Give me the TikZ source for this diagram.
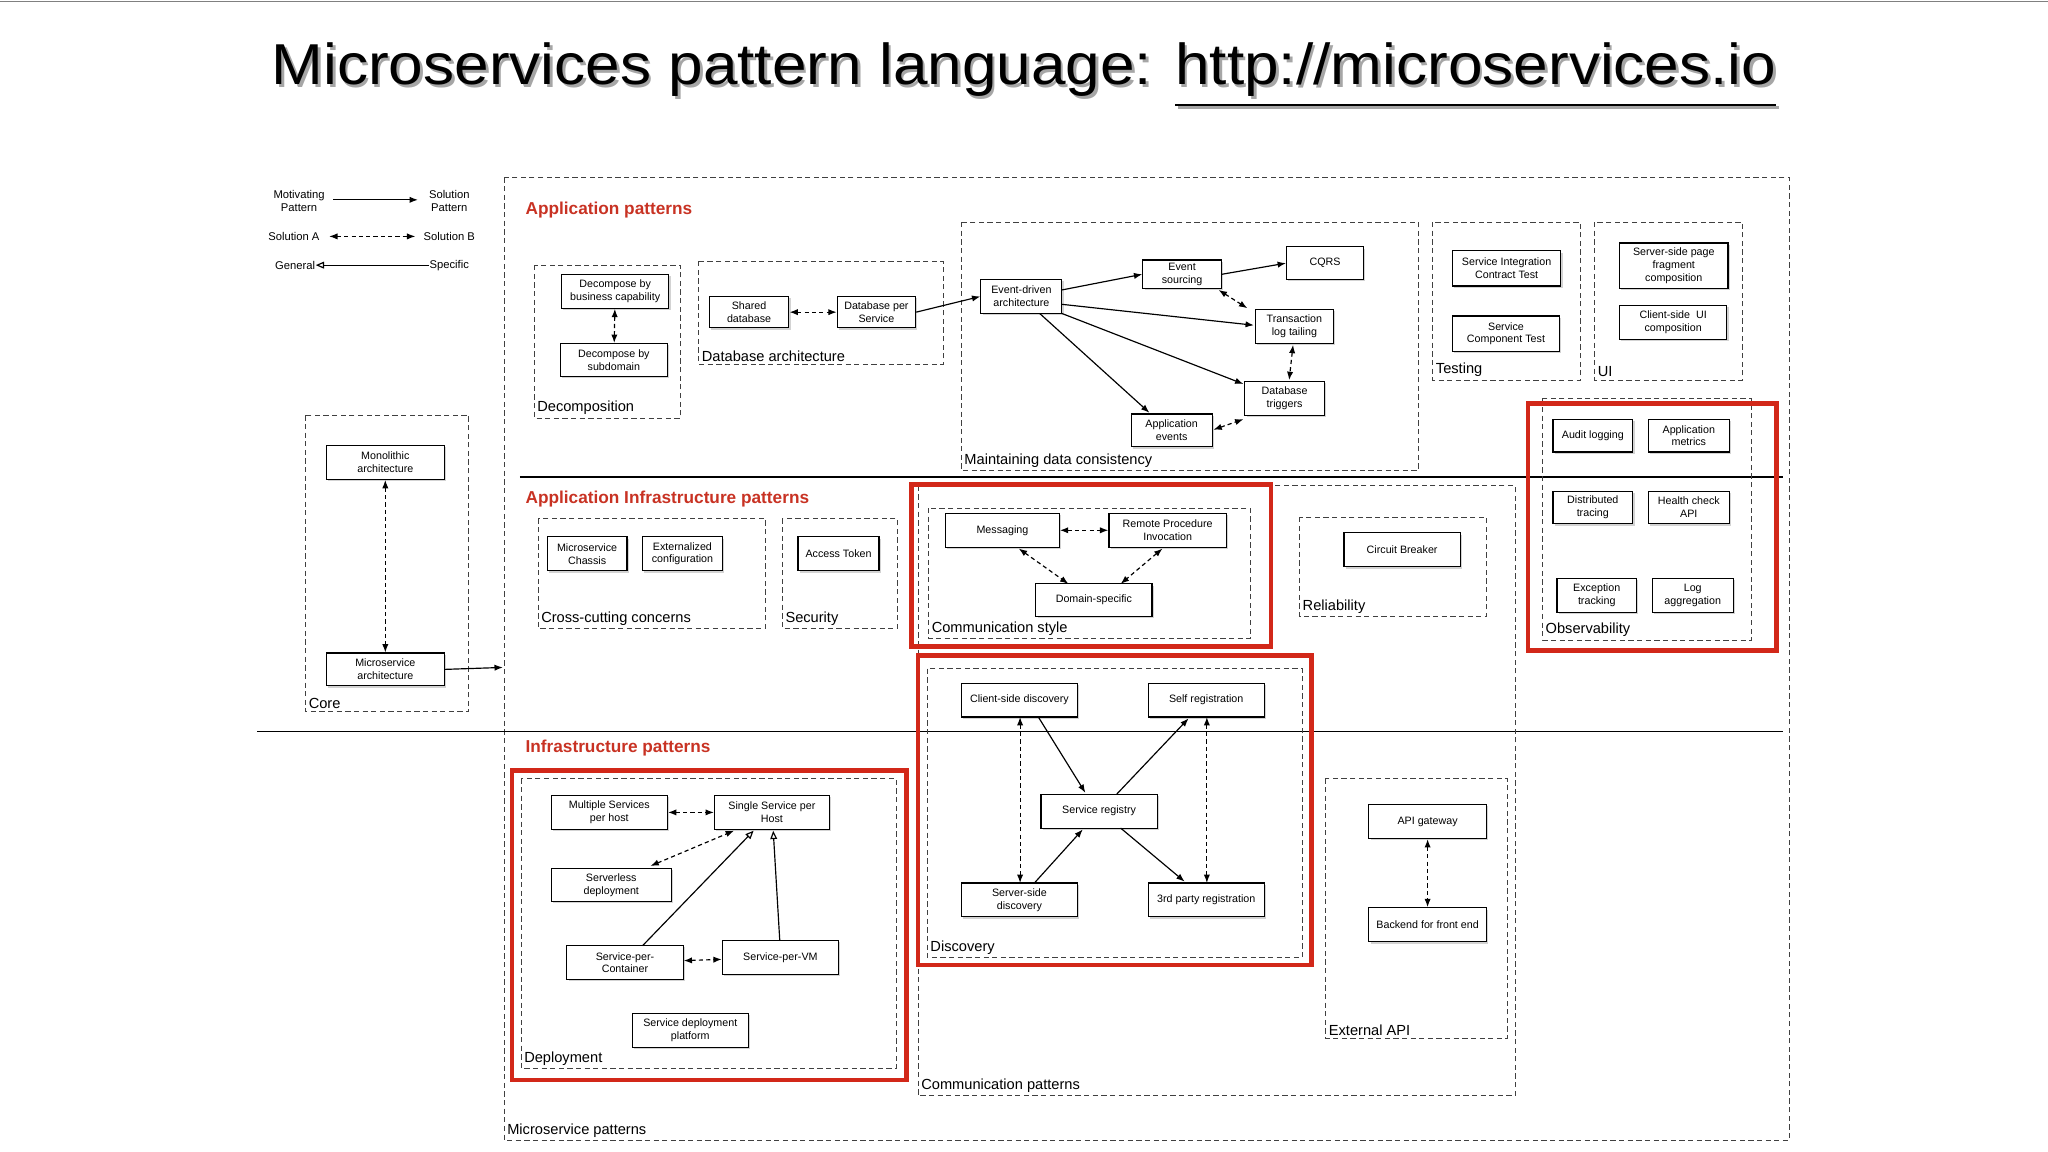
\documentclass[tikz,border=0pt]{standalone}
\usepackage{fontspec}
\setmainfont{Liberation Sans}
\usetikzlibrary{arrows.meta,shadows}
\begin{document}
\begin{tikzpicture}[x=0.5pt,y=-0.5pt,
 box/.style={draw,fill=white,line width=0.45pt,inner sep=0.5pt,align=center,font=\fontsize{4.1}{4.9}\selectfont,drop shadow={shadow xshift=0.7pt,shadow yshift=-0.7pt,opacity=0.35}},
 grp/.style={draw=black!75,line width=0.35pt,dash pattern=on 2pt off 1.3pt},
 lbl/.style={font=\fontsize{5.6}{6}\selectfont,inner sep=1pt,anchor=south west},
 hd/.style={font=\bfseries\fontsize{6.6}{7}\selectfont,text={rgb,255:red,200;green,50;blue,35},anchor=west,inner sep=0pt},
 redb/.style={draw={rgb,255:red,210;green,40;blue,25},line width=1.7pt},
 sa/.style={line width=0.45pt,-{Latex[length=3.2pt,width=2.4pt]}},
 da/.style={line width=0.45pt,dash pattern=on 1.6pt off 1.2pt,{Latex[length=3.2pt,width=2.4pt]}-{Latex[length=3.2pt,width=2.4pt]}},
 oa/.style={line width=0.45pt,-{Triangle[open,length=3.2pt,width=2.6pt]}}]
\useasboundingbox (0,0) rectangle (1568,882);
\newcommand\bx[6]{\node[box,minimum width={(#4-#2)*0.5pt},minimum height={(#5-#3)*0.5pt}] (#1) at ({(#2+#4)/2},{(#3+#5)/2}) {#6};}
\draw[black!50,line width=0.3pt] (0,1) -- (1568,1);
% title
\node[text=black!35,inner sep=0pt] at (786,60) {\resizebox*{576pt}{25pt}{Microservices pattern language: \underline{http://microservices.io}}};
\node[inner sep=0pt] (title) at (784,58) {\resizebox*{576pt}{25pt}{Microservices pattern language: \underline{http://microservices.io}}};
% legend
\begin{scope}[font=\fontsize{4.3}{5}\selectfont]
\node[align=center] (mp) at (229,154) {Motivating\\Pattern};
\node[align=center] (sp) at (344,154) {Solution\\Pattern};
\node (la) at (225,181) {Solution A};
\node (lb) at (344,181) {Solution B};
\node[inner sep=0pt] (lg) at (226,203) {General};
\node[inner sep=0pt] (ls) at (344,203) {Specific};
\end{scope}
\draw[sa] (255,153) -- (320,153);
\draw[da] (252,181) -- (318,181);
\draw[oa] (ls.west) -- (lg.east);
% outer
\draw[grp] (386,136) rectangle (1370,873);
\node[lbl] (lmp) at (386,873) {Microservice patterns};
\draw[line width=0.6pt] (398,365) -- (1365,365);
\draw[line width=0.6pt] (197,560) -- (1365,560);
\node[hd] (h1) at (402,161) {Application patterns};
\node[hd] (h2) at (402,382) {Application Infrastructure patterns};
\node[hd] (h3) at (402,573) {Infrastructure patterns};
% decomposition
\draw[grp] (409,203) rectangle (521,320); \node[lbl] (l1) at (409,320) {Decomposition};
\bx{dbc}{430}{210}{512}{236}{Decompose by\\business capability}
\bx{dsd}{429}{263}{511}{288}{Decompose by\\subdomain}
\draw[da] (dbc) -- (dsd);
% database
\draw[grp] (535,200) rectangle (722,279); \node[lbl] (l2) at (535,279) {Database architecture};
\bx{shd}{543}{227}{604}{251}{Shared\\database}
\bx{dps}{641}{227}{701}{251}{Database per\\Service}
\draw[da] (shd) -- (dps);
% consistency
\draw[grp] (736,170) rectangle (1086,360); \node[lbl] (l3) at (736,360) {Maintaining data consistency};
\bx{eda}{751}{214}{813}{240}{Event-driven\\architecture}
\bx{es}{875}{199}{935}{221}{Event\\sourcing}
\bx{cqrs}{985}{189}{1044}{214}{CQRS}
\bx{tlt}{961}{237}{1021}{263}{Transaction\\log tailing}
\bx{dbt}{953}{292}{1014}{318}{Database\\triggers}
\bx{ae}{866}{317}{928}{342}{Application\\events}
\draw[sa] (dps.east) -- (eda.west);
\draw[sa] (813,222) -- (es.west);
\draw[sa] (es.east) -- (cqrs.west);
\draw[sa] (813,233) -- (960,249);
\draw[sa] (813,240) -- (952,294);
\draw[sa] (796,240) -- (880,316);
\draw[da] (933,222) -- (955,236);
\draw[da] (990,264) -- (987,291);
\draw[da] (929,329) -- (952,321);
% testing
\draw[grp] (1097,170) rectangle (1210,291); \node[lbl] (l4) at (1097,291) {Testing};
\bx{sict}{1112}{192}{1195}{219}{Service Integration\\Contract Test}
\bx{sct}{1112}{242}{1194}{269}{Service\\Component Test}
% UI
\draw[grp] (1221,170) rectangle (1334,291); \node[lbl] (l5) at (1221,291) {UI};
\bx{spf}{1240}{186}{1323}{221}{Server-side page\\fragment\\composition}
\bx{cui}{1240}{234}{1322}{260}{Client-side~ UI\\composition}
% observability
\draw[grp] (1181,305) rectangle (1341,490); \node[lbl] (l6) at (1181,490) {Observability};
\bx{al}{1189}{321}{1250}{346}{Audit logging}
\bx{am}{1262}{321}{1324}{346}{Application\\metrics}
\bx{dt}{1189}{376}{1250}{401}{Distributed\\tracing}
\bx{hc}{1262}{376}{1324}{401}{Health check\\API}
\bx{et}{1192}{443}{1253}{469}{Exception\\tracking}
\bx{lga}{1265}{443}{1327}{469}{Log\\aggregation}
\draw[redb] (1170,309) rectangle (1360,498);
% core
\draw[grp] (234,318) rectangle (359,545); \node[lbl] (l7) at (234,545) {Core};
\bx{mono}{250}{341}{340}{367}{Monolithic\\architecture}
\bx{msa}{250}{500}{340}{525}{Microservice\\architecture}
\draw[da] (mono) -- (msa);
\coordinate (coreout) at (385,511);
\draw[sa] (msa.east) -- (coreout);
% cross-cutting
\draw[grp] (412,397) rectangle (586,481); \node[lbl] (l8) at (412,481) {Cross-cutting concerns};
\bx{chs}{419}{411}{480}{437}{Microservice\\Chassis}
\bx{ext}{492}{411}{553}{437}{Externalized\\configuration}
\draw[grp] (599,397) rectangle (687,481); \node[lbl] (l9) at (599,481) {Security};
\bx{at}{611}{411}{673}{437}{Access Token}
% communication patterns
\draw[grp] (703,372) rectangle (1160,839); \node[lbl] (l10) at (703,839) {Communication patterns};
\draw[grp] (711,389) rectangle (957,489); \node[lbl] (l11) at (711,489) {Communication style};
\bx{msg}{724}{393}{811}{419}{Messaging}
\bx{rpi}{849}{393}{939}{419}{Remote Procedure\\Invocation}
\bx{dsp}{793}{447}{882}{472}{Domain-specific}
\draw[da] (msg) -- (rpi);
\draw[da] (780,420) -- (818,447);
\draw[da] (890,420) -- (858,447);
\draw[redb] (698,371) rectangle (973,495);
\draw[grp] (995,396) rectangle (1138,472); \node[lbl] (l12) at (995,472) {Reliability};
\bx{cb}{1029}{408}{1118}{434}{Circuit Breaker}
% discovery
\draw[grp] (710,512) rectangle (997,733); \node[lbl] (l13) at (710,733) {Discovery};
\bx{csd}{736}{523}{825}{549}{Client-side discovery}
\bx{sr}{879}{523}{968}{549}{Self registration}
\bx{reg}{797}{608}{886}{634}{Service registry}
\bx{ssd}{736}{676}{825}{702}{Server-side\\discovery}
\bx{tpr}{879}{676}{968}{702}{3rd party registration}
\draw[sa] (795,549) -- (831,607);
\draw[sa] (855,608) -- (910,550);
\draw[sa] (792,676) -- (829,635);
\draw[sa] (858,634) -- (907,675);
\draw[da] (781,549) -- (781,676);
\draw[da] (924,549) -- (924,676);
\draw[redb] (703,502) rectangle (1004,739);
% external API
\draw[grp] (1015,596) rectangle (1154,795); \node[lbl] (l14) at (1015,795) {External API};
\bx{apig}{1048}{616}{1138}{642}{API gateway}
\bx{bff}{1048}{695}{1138}{721}{Backend for front end}
\draw[da] (apig) -- (bff);
% deployment
\draw[grp] (399,596) rectangle (686,818); \node[lbl] (l15) at (399,818) {Deployment};
\bx{msh}{422}{609}{511}{635}{Multiple Services\\per host}
\bx{ssh}{547}{609}{635}{635}{Single Service per\\Host}
\bx{sls}{422}{665}{514}{690}{Serverless\\deployment}
\bx{spc}{434}{724}{523}{750}{Service-per-\\Container}
\bx{svm}{553}{720}{642}{746}{Service-per-VM}
\bx{sdp}{484}{776}{573}{802}{Service deployment\\platform}
\draw[da] (msh) -- (ssh);
\draw[da] (498,663) -- (562,636);
\draw[oa] (492,724) -- (577,636);
\draw[oa] (597,720) -- (592,636);
\draw[da] (spc) -- (svm);
\draw[redb] (392,590) rectangle (694,827);
\end{tikzpicture}
\end{document}
